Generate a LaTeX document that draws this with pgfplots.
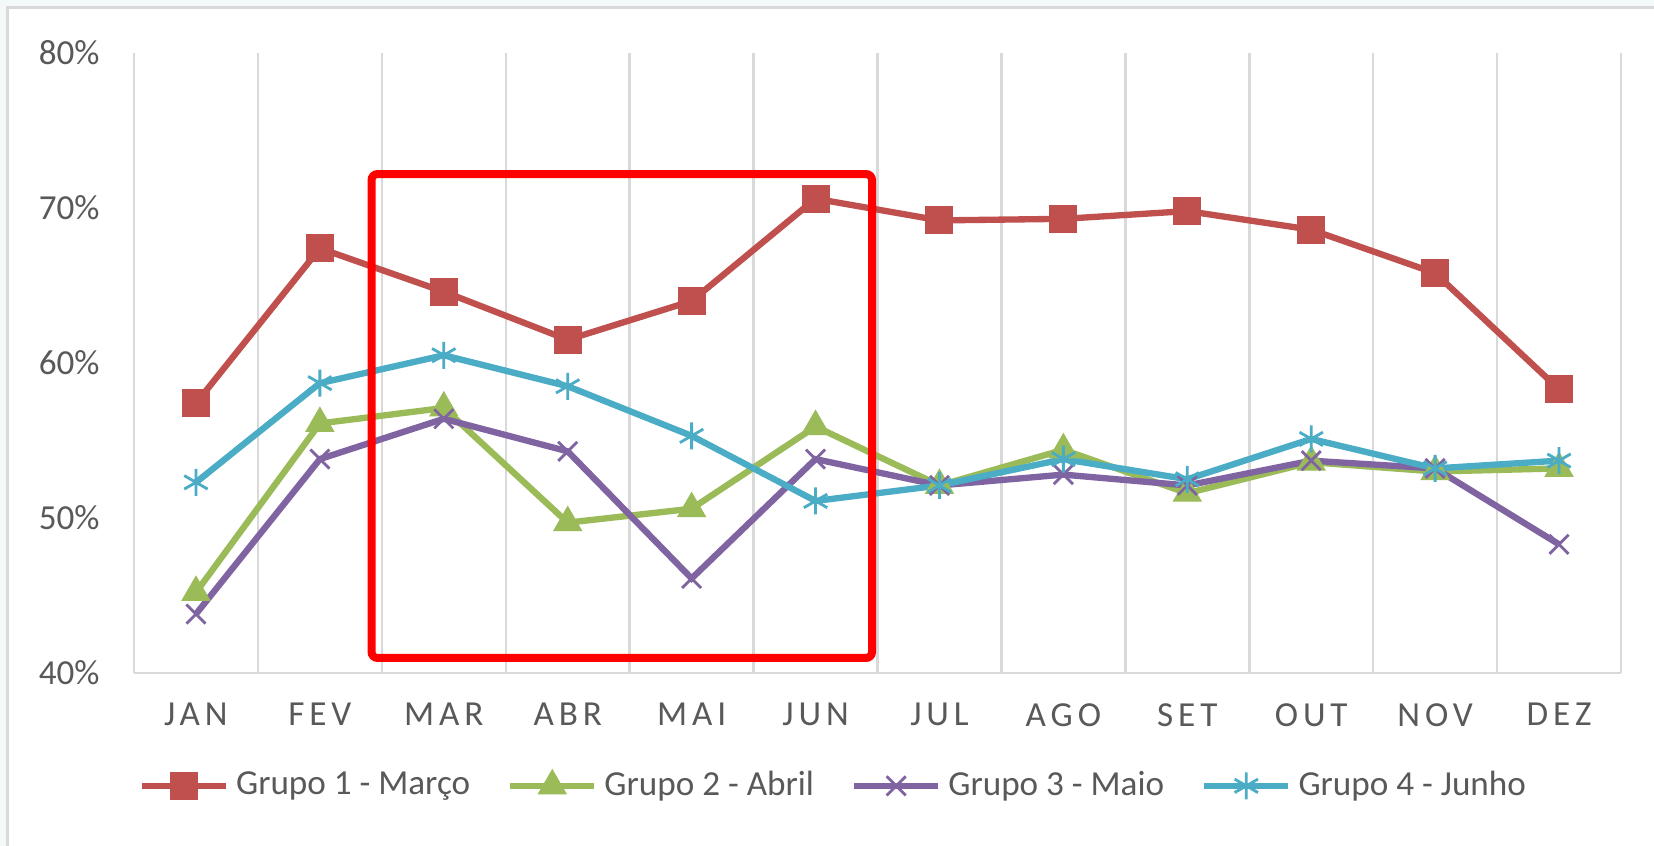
\documentclass[border=0pt]{standalone}
\usepackage{fontspec}
\setmainfont{Carlito}
\newfontfamily\xlab[LetterSpace=14]{Carlito}
\usepackage{pgfplots}
\pgfplotsset{compat=1.18}
\definecolor{gred}{HTML}{C0504D}
\definecolor{ggreen}{HTML}{9BBB59}
\definecolor{gpurple}{HTML}{8064A2}
\definecolor{gblue}{HTML}{4BACC6}
\definecolor{gridc}{HTML}{D9D9D9}
\definecolor{txt}{HTML}{595959}
\definecolor{bgc}{HTML}{F3F9F9}
\begin{document}
\begin{tikzpicture}
\fill[bgc] (-13.4mm,-17.3mm) rectangle (152.0mm,67.3mm);
\useasboundingbox (-13.4mm,-17.3mm) rectangle (152.0mm,67.3mm);
\fill[white] (-12.6mm,-17.3mm) rectangle (152.0mm,66.5mm);
\draw[gridc, line width=0.3mm] (-12.6mm,-17.3mm) -- (-12.6mm,66.5mm) -- (152.0mm,66.5mm);
\begin{axis}[
  at={(0,0)}, anchor=south west,
  width=148.7mm, height=62.0mm, scale only axis,
  xmin=-0.5, xmax=11.5, ymin=40, ymax=80,
  xtick={0,...,11},
  xticklabels={JAN,FEV,MAR,ABR,MAI,JUN,JUL,AGO,SET,OUT,NOV,DEZ},
  minor xtick={-0.5,0.5,...,11.5},
  minor x grid style={gridc, line width=0.25mm},
  xminorgrids=true,
  ytick={40,50,60,70,80},
  yticklabels={40\%,50\%,60\%,70\%,80\%},
  major tick length=0pt, minor tick length=0pt,
  axis x line*=bottom, axis y line*=left,
  y axis line style={draw=none},
  x axis line style={draw=gridc, line width=0.25mm},
  tick label style={font=\fontsize{10}{12}\selectfont, text=txt},
  xticklabel style={font=\fontsize{10}{12}\selectfont\xlab, yshift=-1.8mm},
  yticklabel style={xshift=-2.2mm},
  legend columns=4,
  legend style={at={(0.472,-0.182)}, anchor=center, draw=none, fill=none,
    font=\fontsize{10}{12}\selectfont, text=txt,
    /tikz/every even column/.append style={column sep=3.0mm},
    inner sep=0pt},
  legend cell align=left,
  legend image code/.code={\draw[mark repeat=2,mark phase=2] plot coordinates {(0mm,0mm) (4.2mm,0mm) (8.4mm,0mm)};},
  every axis plot/.append style={line width=1.8pt},
  clip=false,
]
\addplot[gred, mark=square*, mark size=1.35mm, mark options={line width=0.3pt}] coordinates {
(0,57.4) (1,67.4) (2,64.6) (3,61.5) (4,64.0) (5,70.6) (6,69.2) (7,69.3) (8,69.8) (9,68.6) (10,65.8) (11,58.3)};
\addlegendentry{Grupo 1 - Março}
\addplot[ggreen, mark=triangle*, mark size=1.6mm, mark options={line width=0.3pt}] coordinates {
(0,45.2) (1,56.1) (2,57.1) (3,49.7) (4,50.6) (5,55.9) (6,52.1) (7,54.4) (8,51.6) (9,53.6) (10,53.0) (11,53.2)};
\addlegendentry{Grupo 2 - Abril}
\addplot[gpurple, mark=x, mark size=1.35mm, mark options={line width=0.8pt}] coordinates {
(0,43.8) (1,53.8) (2,56.4) (3,54.3) (4,46.1) (5,53.8) (6,52.1) (7,52.8) (8,52.1) (9,53.7) (10,53.2) (11,48.3)};
\addlegendentry{Grupo 3 - Maio}
\addplot[gblue, mark=asterisk, mark size=1.35mm, mark options={line width=0.8pt}] coordinates {
(0,52.3) (1,58.7) (2,60.5) (3,58.5) (4,55.3) (5,51.1) (6,52.1) (7,53.8) (8,52.5) (9,55.1) (10,53.2) (11,53.7)};
\addlegendentry{Grupo 4 - Junho}
\draw[red, line width=0.8mm, rounded corners=0.6mm] (axis cs:1.417,40.97) rectangle (axis cs:5.456,72.19);
\end{axis}
\end{tikzpicture}
\end{document}
